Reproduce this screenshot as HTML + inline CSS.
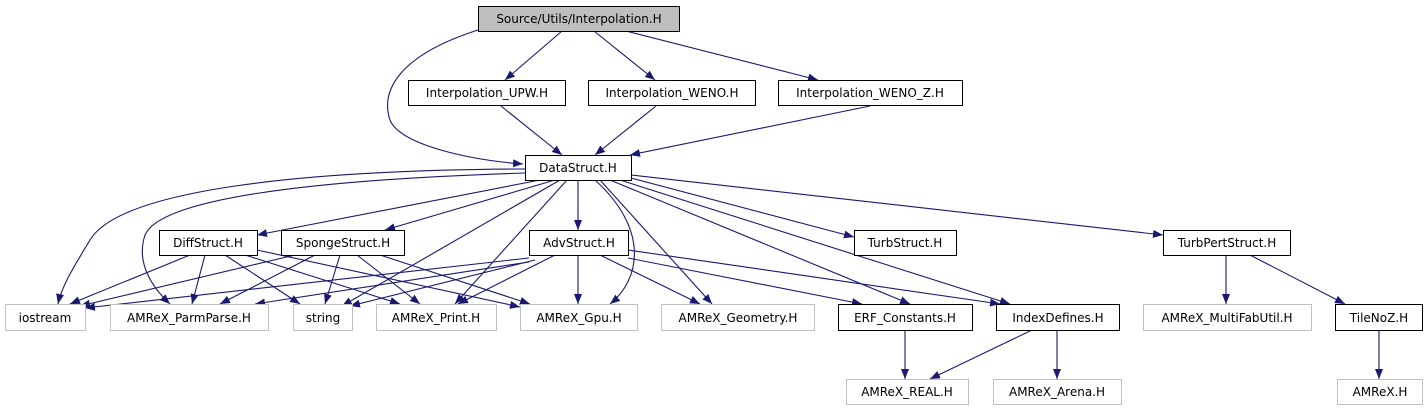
<!DOCTYPE html>
<html><head><meta charset="utf-8"><style>
html,body{margin:0;padding:0;background:#fff;width:1427px;height:411px;overflow:hidden}
text{font-family:"DejaVu Sans","Liberation Sans",sans-serif;font-size:12px;fill:#000}
</style></head><body>
<svg width="1427" height="411" viewBox="0 0 1427 411" xmlns="http://www.w3.org/2000/svg">
<defs><marker id="a" viewBox="0 0 10 10" refX="10" refY="5" markerWidth="10" markerHeight="10" markerUnits="userSpaceOnUse" orient="auto"><path d="M0,1 L10,5 L0,9 z" fill="#191970"/></marker></defs>
<g fill="none" stroke="#191970" stroke-width="1.1" marker-end="url(#a)">
<path d="M562,31 L505,80"/><path d="M594,31 L655,80"/><path d="M626,31 L818,80"/>
<path d="M478,30 C400,55 380,90 390,120 C400,145 470,160 523,164"/>
<path d="M501,106 L562,155"/><path d="M656,106 L595,155"/><path d="M870,106 L630,155"/>
<path d="M525,169 C300,170 120,190 90,240 C75,265 62,285 58,304"/>
<path d="M525,173 C300,180 160,200 145,235 C135,265 155,290 170,304"/>
<path d="M540,180 L257,235"/><path d="M555,180 L385,230"/>
<path d="M560,180 L342,306"/><path d="M567,180 L455,304"/>
<path d="M578,180 L578,230"/>
<path d="M595,180 C650,230 640,280 610,304"/>
<path d="M600,180 L712,304"/><path d="M610,180 L910,304"/><path d="M620,180 L1010,304"/>
<path d="M631,178 L854,237"/><path d="M631,175 L1163,235"/>
<path d="M190,255 L70,304"/><path d="M205,255 L192,304"/><path d="M225,255 L300,304"/><path d="M245,255 L400,304"/><path d="M257,250 L520,307"/>
<path d="M295,255 L80,306"/><path d="M315,255 L220,304"/><path d="M340,255 L325,304"/><path d="M357,255 L420,304"/><path d="M380,255 L530,304"/>
<path d="M529,258 L85,308"/><path d="M529,262 L255,304"/><path d="M535,260 L350,306"/><path d="M555,255 L458,304"/>
<path d="M578,255 L578,304"/><path d="M600,255 L700,304"/><path d="M628,258 L862,304"/><path d="M628,250 L1000,304"/>
<path d="M1226,255 L1226,304"/><path d="M1250,255 L1345,304"/>
<path d="M905,330 L905,379"/><path d="M1032,330 L930,379"/><path d="M1057,330 L1057,379"/><path d="M1379,330 L1379,379"/>
</g>
<g stroke-width="1">
<rect x="478.5" y="6.5" width="201" height="25" fill="#bfbfbf" stroke="#000"/>
<g fill="#fff" stroke="#000">
<rect x="408.5" y="80.5" width="157" height="25"/><rect x="588.5" y="80.5" width="167" height="25"/><rect x="778.5" y="80.5" width="184" height="25"/>
<rect x="525.5" y="155.5" width="106" height="25"/>
<rect x="159.5" y="230.5" width="98" height="25"/><rect x="281.5" y="230.5" width="123" height="25"/><rect x="529.5" y="230.5" width="99" height="25"/>
<rect x="854.5" y="230.5" width="102" height="25"/><rect x="1163.5" y="230.5" width="127" height="25"/>
<rect x="838.5" y="304.5" width="134" height="26"/><rect x="996.5" y="304.5" width="123" height="26"/><rect x="1335.5" y="304.5" width="87" height="26"/>
</g>
<g fill="#fff" stroke="#bfbfbf">
<rect x="5.5" y="304.5" width="80" height="26"/><rect x="110.5" y="304.5" width="158" height="26"/><rect x="293.5" y="304.5" width="59" height="26"/>
<rect x="376.5" y="304.5" width="120" height="26"/><rect x="520.5" y="304.5" width="117" height="26"/><rect x="661.5" y="304.5" width="153" height="26"/>
<rect x="1143.5" y="304.5" width="168" height="26"/>
<rect x="846.5" y="379.5" width="122" height="25"/><rect x="993.5" y="379.5" width="128" height="25"/><rect x="1337.5" y="379.5" width="85" height="25"/>
</g>
</g>
<g text-anchor="middle">
<text x="579" y="23">Source/Utils/Interpolation.H</text>
<text x="487" y="97">Interpolation_UPW.H</text><text x="672" y="97">Interpolation_WENO.H</text><text x="870" y="97">Interpolation_WENO_Z.H</text>
<text x="578" y="172">DataStruct.H</text>
<text x="208" y="247">DiffStruct.H</text><text x="343" y="247">SpongeStruct.H</text><text x="579" y="247">AdvStruct.H</text>
<text x="905" y="247">TurbStruct.H</text><text x="1227" y="247">TurbPertStruct.H</text>
<text x="45" y="322">iostream</text><text x="189" y="322">AMReX_ParmParse.H</text><text x="323" y="322">string</text>
<text x="436" y="322">AMReX_Print.H</text><text x="579" y="322">AMReX_Gpu.H</text><text x="738" y="322">AMReX_Geometry.H</text>
<text x="905" y="322">ERF_Constants.H</text><text x="1058" y="322">IndexDefines.H</text><text x="1227" y="322">AMReX_MultiFabUtil.H</text><text x="1379" y="322">TileNoZ.H</text>
<text x="907" y="396">AMReX_REAL.H</text><text x="1057" y="396">AMReX_Arena.H</text><text x="1380" y="396">AMReX.H</text>
</g>
</svg>
</body></html>
